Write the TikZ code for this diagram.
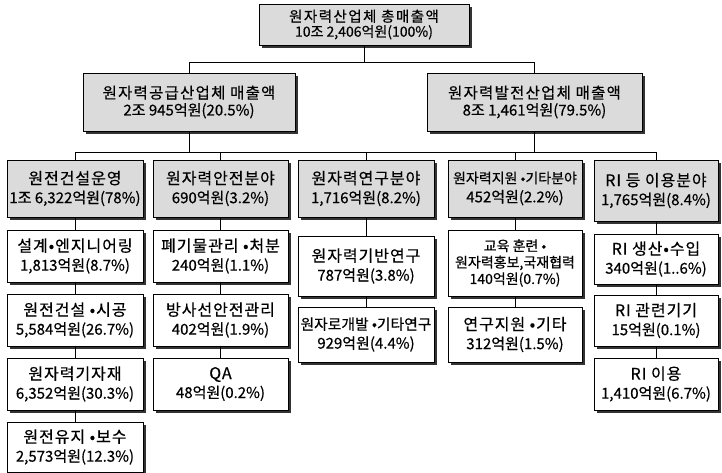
\documentclass[tikz,border=0pt]{standalone}
\usepackage{fontspec}
\setmainfont{Noto Sans CJK KR}[FakeBold=0.5]
\usetikzlibrary{shadows}
\newcommand\hd[1]{{\fontsize{16}{19}\selectfont\addfontfeatures{LetterSpace=6}#1}}
\newcommand\hdtop[1]{{\fontsize{14.5}{15}\selectfont\addfontfeatures{LetterSpace=10}#1}}
\newcommand\hdmid[1]{{\fontsize{15.5}{17}\selectfont\addfontfeatures{LetterSpace=8}#1}}
\tikzset{
  box/.style={draw=black, line width=0.8pt, fill=white, align=center, inner sep=0pt,
    font=\fontsize{15}{19}\selectfont,
    drop shadow={shadow xshift=2.6pt, shadow yshift=-2.6pt, fill=black!80, opacity=1}},
  graybox/.style={box, fill=black!14},
  link/.style={draw=black, line width=0.8pt},
  colA/.style={minimum width=136pt},
  colB/.style={minimum width=135pt},
  colC/.style={minimum width=136pt},
  colD/.style={minimum width=134pt},
  colE/.style={minimum width=124pt},
}
\begin{document}
\begin{tikzpicture}[x=1pt,y=-1pt]
\useasboundingbox (0,0) rectangle (722,472);
% level 0
\node[graybox, minimum width=210pt, minimum height=41pt, font=\fontsize{14}{15}\selectfont] (top) at (364,24.5)
  {\hdtop{원자력산업체 총매출액}\\10조 2,406억원(100\%)};
% level 1
\node[graybox, minimum width=212pt, minimum height=58pt, font=\fontsize{15}{17}\selectfont] (sup) at (189,102)
  {\hdmid{원자력공급산업체 매출액}\\2조 945억원(20.5\%)};
\node[graybox, minimum width=215pt, minimum height=58pt, font=\fontsize{15}{17}\selectfont] (gen) at (534.5,102)
  {\hdmid{원자력발전산업체 매출액}\\8조 1,461억원(79.5\%)};
% level 2
\node[graybox, colA, minimum height=57pt] (a1) at (75,188.5) {\hd{원전건설운영}\\1조 6,322억원(78\%)};
\node[graybox, colB, minimum height=57pt] (b1) at (220.5,188.5) {\hd{원자력안전분야}\\690억원(3.2\%)};
\node[graybox, colC, minimum height=57pt] (c1) at (366,188.5) {\hd{원자력연구분야}\\1,716억원(8.2\%)};
\node[graybox, colD, minimum height=57pt] (d1) at (515,188.5) {{\fontsize{14}{19}\selectfont 원자력지원 •기타분야}\\452억원(2.2\%)};
\node[graybox, colE, minimum height=61pt] (e1) at (656,190.5) {\hd{RI 등 이용분야}\\1,765억원(8.4\%)};
% column A
\node[box, colA, minimum height=52pt] (a2) at (75,256) {\hd{설계•엔지니어링}\\1,813억원(8.7\%)};
\node[box, colA, minimum height=52pt] (a3) at (75,320) {\hd{원전건설 •시공}\\5,584억원(26.7\%)};
\node[box, colA, minimum height=52pt] (a4) at (75,384) {\hd{원자력기자재}\\6,352억원(30.3\%)};
\node[box, colA, minimum height=50pt] (a5) at (75,447) {\hd{원전유지 •보수}\\2,573억원(12.3\%)};
% column B
\node[box, colB, minimum height=52pt] (b2) at (220.5,256) {\hd{폐기물관리 •처분}\\240억원(1.1\%)};
\node[box, colB, minimum height=52pt] (b3) at (220.5,320) {\hd{방사선안전관리}\\402억원(1.9\%)};
\node[box, colB, minimum height=52pt] (b4) at (220.5,384) {\hd{QA}\\48억원(0.2\%)};
% column C
\node[box, colC, minimum height=60pt] (c2) at (366,266) {\hd{원자력기반연구}\\787억원(3.8\%)};
\node[box, colC, minimum height=55pt] (c3) at (366,334.5) {{\fontsize{14.8}{19}\selectfont 원자로개발 •기타연구}\\929억원(4.4\%)};
% column D
\node[box, colD, minimum height=66pt, font=\fontsize{14}{16.5}\selectfont] (d2) at (515,263) {교육 훈련 •\\원자력홍보,국재협력\\140억원(0.7\%)};
\node[box, colD, minimum height=55pt] (d3) at (515,334.5) {\hd{연구지원 •기타}\\312억원(1.5\%)};
% column E
\node[box, colE, minimum height=50pt] (e2) at (656,259) {\hd{RI 생산•수입}\\340억원(1..6\%)};
\node[box, colE, minimum height=51pt] (e3) at (656,320.5) {\hd{RI 관련기기}\\15억원(0.1\%)};
\node[box, colE, minimum height=52pt] (e4) at (656,384) {\hd{RI 이용}\\1,410억원(6.7\%)};
% connectors
\coordinate (busA) at (0,62);
\coordinate (busB) at (0,152);
\draw[link] (top.south) -- (top.south |- busA);
\draw[link] (sup.north) -- (sup.north |- busA) -- (gen.north |- busA) -- (gen.north);
\draw[link] (sup.south) -- (sup.south |- busB);
\draw[link] (gen.south) -- (gen.south |- busB);
\draw[link] (a1.north) -- (a1.north |- busB) -- (e1.north |- busB) -- (e1.north);
\foreach \n in {b1,c1,d1} \draw[link] (\n.north) -- (\n.north |- busB);
\draw[link] (a1) -- (a2); \draw[link] (a2) -- (a3); \draw[link] (a3) -- (a4); \draw[link] (a4) -- (a5);
\draw[link] (b1) -- (b2); \draw[link] (b2) -- (b3); \draw[link] (b3) -- (b4);
\draw[link] (c1) -- (c2); \draw[link] (c2) -- (c3);
\draw[link] (d1) -- (d2); \draw[link] (d2) -- (d3);
\draw[link] (e1) -- (e2); \draw[link] (e2) -- (e3); \draw[link] (e3) -- (e4);
\end{tikzpicture}
\end{document}
